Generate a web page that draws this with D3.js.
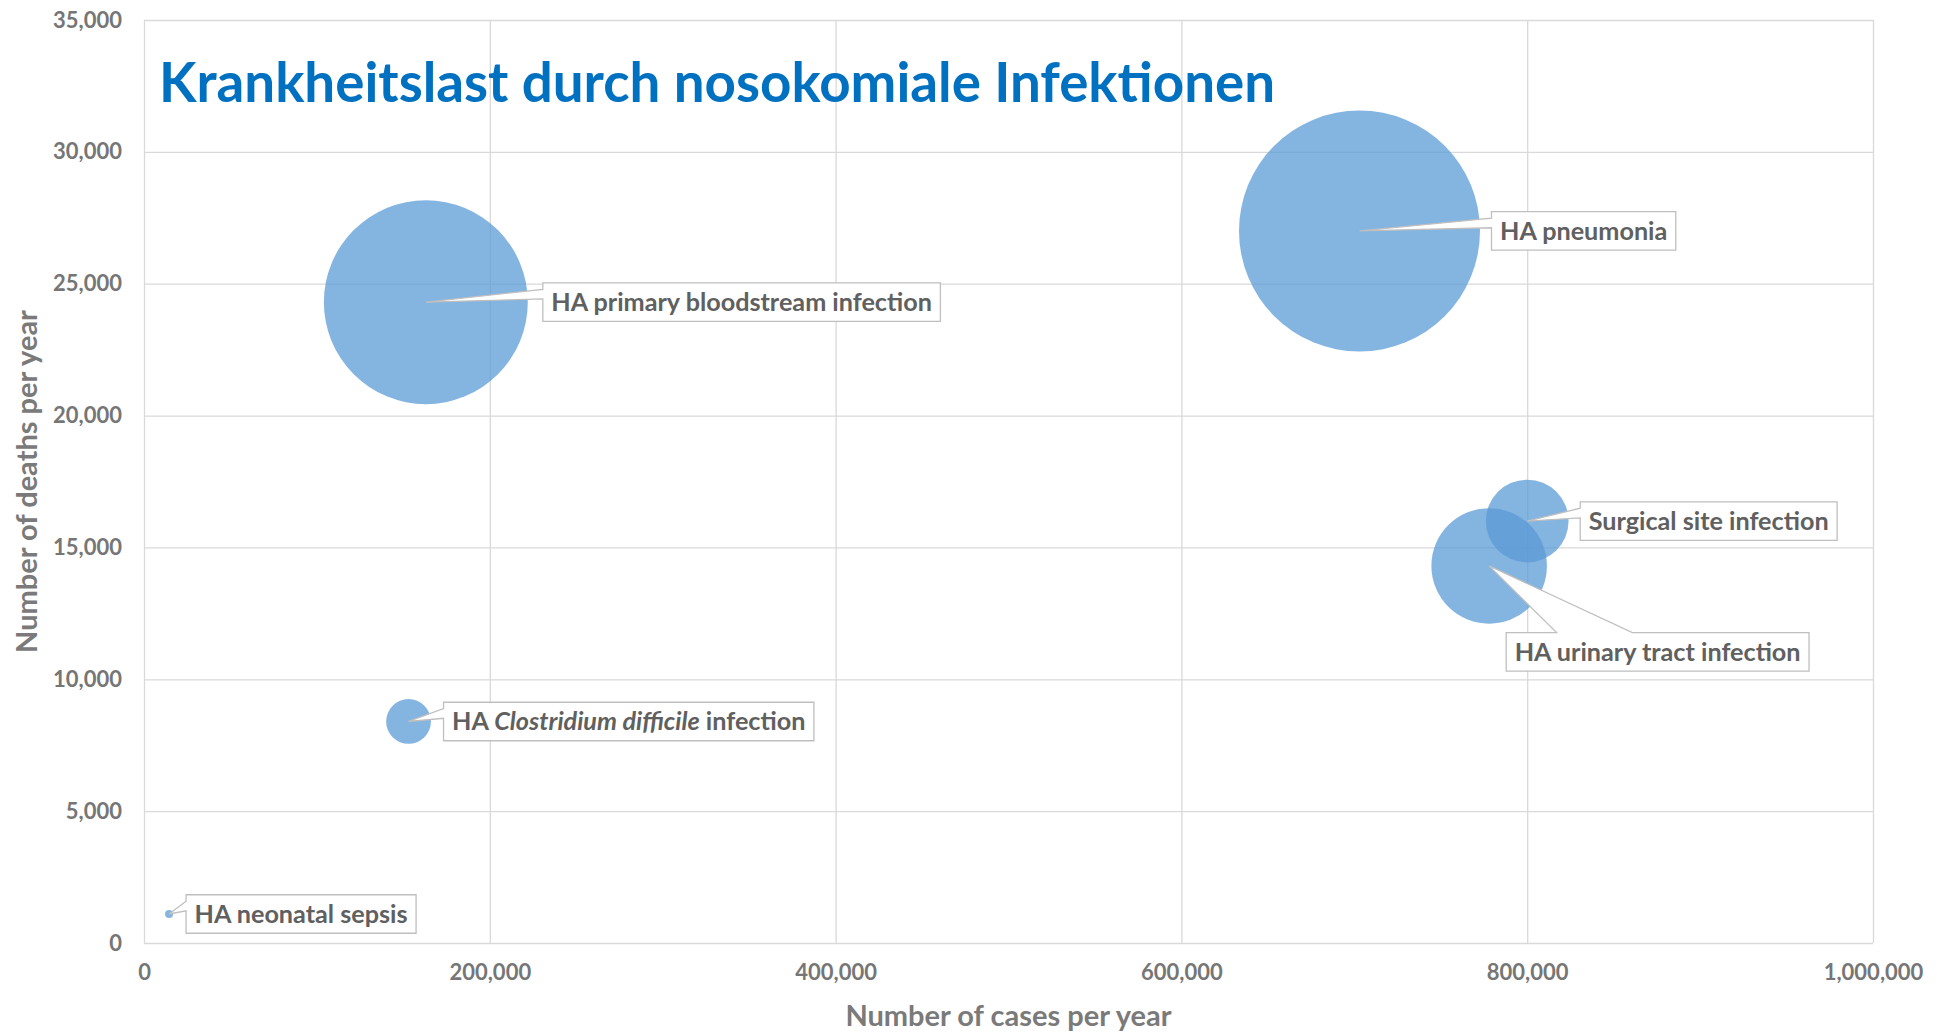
<!DOCTYPE html>
<html>
<head>
<meta charset="utf-8">
<script src="https://cdn.jsdelivr.net/npm/d3@7"></script>
<style>
  body { margin: 0; background: #ffffff; }
  svg { display: block; font-family: Lato, "Open Sans", sans-serif; }
</style>
</head>
<body>
<svg id="chart" width="1948" height="1032"></svg>
<script>
// ---- data -------------------------------------------------------------
const infections = [
  "HA pneumonia",
  "HA primary bloodstream infection",
  "Surgical site infection",
  "HA urinary tract infection",
  "HA Clostridium difficile infection",
  "HA neonatal sepsis"
];
const casesPerYear  = [703000, 163000, 800000, 778000, 153000, 14500];
const deathsPerYear = [27000, 24300, 16000, 14300, 8400, 1100];
// bubble size (bubble width is proportional to this value)
const bubbleSize    = [169, 143, 58, 81, 31.4, 5.6];

const xTickValues = [0, 200000, 400000, 600000, 800000, 1000000];
const yTickValues = [0, 5000, 10000, 15000, 20000, 25000, 30000, 35000];

const chartTitle = "Krankheitslast durch nosokomiale Infektionen";
const xAxisTitle = "Number of cases per year";
const yAxisTitle = "Number of deaths per year";

// ---- layout ------------------------------------------------------------
// label box placement relative to its point: [box left - x, box centre - y]
const labelPlacement = [[132, 0], [117, 0], [53, 0], [17, 86], [35, 0], [17, 0]];

const plot = { left: 144, right: 1873, top: 20, bottom: 943 };
const svg = d3.select("#chart");

const x = d3.scaleLinear().domain([0, 1000000]).range([plot.left, plot.right]);
const y = d3.scaleLinear().domain([0, 35000]).range([plot.bottom, plot.top]);
const r = d3.scaleLinear().domain([0, 169]).range([0, 120.5]);

const fmt = d3.format(",");
const gridColor = "#d9d9d9";
const tickColor = "#767676";

// gridlines (the outermost ones form the plot frame)
svg.append("g")
  .attr("transform", `translate(${plot.left},0)`)
  .call(d3.axisLeft(y).tickValues(yTickValues).tickSize(-(plot.right - plot.left)).tickFormat(""))
  .call(g => g.select(".domain").remove())
  .selectAll("line").attr("stroke", gridColor).attr("stroke-width", 1.3);

svg.append("g")
  .attr("transform", `translate(0,${plot.bottom})`)
  .call(d3.axisBottom(x).tickValues(xTickValues).tickSize(-(plot.bottom - plot.top)).tickFormat(""))
  .call(g => g.select(".domain").remove())
  .selectAll("line").attr("stroke", gridColor).attr("stroke-width", 1.3);

// tick labels
const yAxis = svg.append("g")
  .attr("transform", `translate(${plot.left},0)`)
  .call(d3.axisLeft(y).tickValues(yTickValues).tickSize(0).tickPadding(22).tickFormat(fmt));
yAxis.select(".domain").remove();
yAxis.selectAll("text")
  .attr("fill", tickColor).attr("font-size", 22).attr("font-weight", 700)
  .attr("font-family", "Lato");

const xAxis = svg.append("g")
  .attr("transform", `translate(0,${plot.bottom})`)
  .call(d3.axisBottom(x).tickValues(xTickValues).tickSize(0).tickPadding(21).tickFormat(fmt));
xAxis.select(".domain").remove();
xAxis.selectAll("text")
  .attr("fill", tickColor).attr("font-size", 22).attr("font-weight", 700)
  .attr("font-family", "Lato");

// axis titles
svg.append("text")
  .attr("x", (plot.left + plot.right) / 2).attr("y", 1026)
  .attr("text-anchor", "middle")
  .attr("font-size", 29).attr("font-weight", 700).attr("fill", "#7a7a7a")
  .text(xAxisTitle);

svg.append("text")
  .attr("transform", `translate(37,${(plot.top + plot.bottom) / 2}) rotate(-90)`)
  .attr("text-anchor", "middle")
  .attr("font-size", 29).attr("font-weight", 700).attr("fill", "#7a7a7a")
  .text(yAxisTitle);

// bubbles
const points = infections.map((name, i) => ({
  name, cases: casesPerYear[i], deaths: deathsPerYear[i], size: bubbleSize[i],
  place: labelPlacement[i]
}));

svg.append("g")
  .selectAll("circle")
  .data(points)
  .join("circle")
  .attr("cx", d => x(d.cases))
  .attr("cy", d => y(d.deaths))
  .attr("r", d => r(d.size))
  .attr("fill", "#5b9bd5")
  .attr("fill-opacity", 0.75);

// title
svg.append("text")
  .attr("x", 159).attr("y", 102)
  .attr("font-size", 54.7).attr("font-weight", 700)
  .attr("fill", "#0070c0")
  .text(chartTitle);

// rectangular callout with a wedge pointing at (px, py)
function calloutPath(l, t, w, h, px, py) {
  const rr = l + w, b = t + h, hc = l + w / 2, vc = t + h / 2;
  const dx = px - hc, dy = py - vc;
  const dq = dx * h / w;
  if (Math.abs(dy) > Math.abs(dq)) {
    const xa = l + w * (dx > 0 ? 7 : 2) / 12, xb = l + w * (dx > 0 ? 10 : 5) / 12;
    if (dy < 0)
      return `M${l},${t}L${xa},${t}L${px},${py}L${xb},${t}L${rr},${t}L${rr},${b}L${l},${b}Z`;
    return `M${l},${t}L${rr},${t}L${rr},${b}L${xb},${b}L${px},${py}L${xa},${b}L${l},${b}Z`;
  }
  const below = dy > 0.5;
  const ya = t + h * (below ? 7 : 2) / 12, yb = t + h * (below ? 10 : 5) / 12;
  if (dx < 0)
    return `M${l},${t}L${rr},${t}L${rr},${b}L${l},${b}L${l},${yb}L${px},${py}L${l},${ya}Z`;
  return `M${l},${t}L${rr},${t}L${rr},${ya}L${px},${py}L${rr},${yb}L${rr},${b}L${l},${b}Z`;
}

// data labels
const padX = 8.5, boxH = 38.5;
const labels = svg.append("g").selectAll("g").data(points).join("g");

labels.each(function (d) {
  const g = d3.select(this);
  const px = x(d.cases), py = y(d.deaths);
  const left = px + d.place[0], cy = py + d.place[1];
  const path = g.append("path");
  const txt = g.append("text")
    .attr("x", left + padX).attr("y", cy)
    .attr("dy", "0.35em")
    .attr("font-size", 25.2).attr("font-weight", 700).attr("fill", "#606060");
  if (d.name.includes("Clostridium")) {
    txt.append("tspan").text("HA ");
    txt.append("tspan").attr("font-style", "italic").text("Clostridium difficile");
    txt.append("tspan").text(" infection");
  } else {
    txt.text(d.name);
  }
  const w = txt.node().getComputedTextLength() + 2 * padX;
  path.attr("d", calloutPath(left, cy - boxH / 2, w, boxH, px, py))
    .attr("fill", "#ffffff").attr("stroke", "#bfbfbf").attr("stroke-width", 1.3)
    .attr("stroke-linejoin", "miter");
});
</script>
</body>
</html>
